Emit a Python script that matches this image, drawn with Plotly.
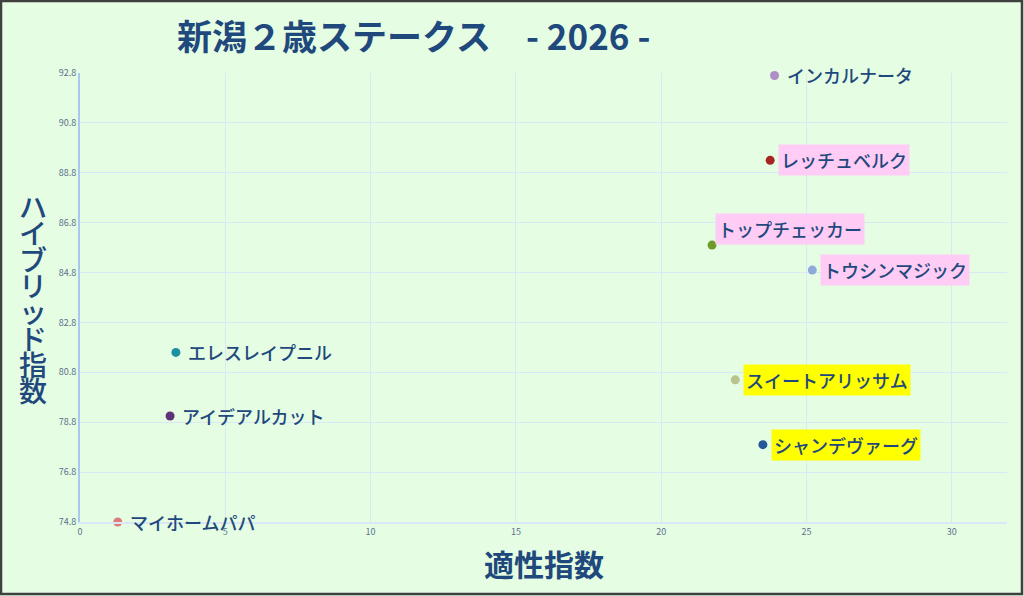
import plotly.graph_objects as go

# 出走馬データ
horses = ["インカルナータ", "レッチュベルク", "トップチェッカー", "トウシンマジック",
          "エレスレイプニル", "スイートアリッサム", "アイデアルカット", "シャンデヴァーグ",
          "マイホームパパ"]
tekisei = [23.9, 23.75, 21.75, 25.2, 3.3, 22.55, 3.1, 23.5, 1.3]
hybrid = [92.7, 89.3, 85.9, 84.9, 81.6, 80.5, 79.05, 77.9, 74.8]
dot_colors = ["#b08fc8", "#a82424", "#6e9a28", "#8eaad8", "#1e8fa2",
              "#b8c48c", "#5e3478", "#24569a", "#e07b7b"]
label_bg = [None, "#ffccf5", "#ffccf5", "#ffccf5", None,
            "#ffff00", None, "#ffff00", None]
label_above = [False, False, True, False, False, False, False, False, False]

x_ticks = [0, 5, 10, 15, 20, 25, 30]
y_ticks = [74.8, 76.8, 78.8, 80.8, 82.8, 84.8, 86.8, 88.8, 90.8, 92.8]

NAVY = "#1f497d"
FONT = "Noto Sans CJK JP"

# プロット領域(ピクセル)
L, R, T, B = 80, 1007, 73, 522
W, H = 1024, 596


def px(X):
    return (X - L) / (R - L)


def py(Y):
    return (B - Y) / (B - T)


fig = go.Figure()
fig.add_trace(go.Scatter(
    x=tekisei, y=hybrid, mode="markers",
    marker=dict(size=9, color=dot_colors),
    cliponaxis=False, hoverinfo="text", text=horses,
))

annotations = []
for name, x, y, bg, above in zip(horses, tekisei, hybrid, label_bg, label_above):
    a = dict(x=x, y=y, xref="x", yref="y", text=name, showarrow=False,
             xanchor="left",
             font=dict(family=FONT, size=18, color=NAVY, weight=500))
    if bg:
        a.update(bgcolor=bg, borderpad=2)
    if above:
        a.update(yanchor="bottom", xshift=3, yshift=0)
    else:
        a.update(yanchor="middle", xshift=8 if bg else 10)
    annotations.append(a)

# 縦書きのY軸タイトル(1文字ずつ)
for i, ch in enumerate("ハイブリッド指数"):
    annotations.append(dict(
        x=px(33), y=py(206 + 26.3 * i), xref="paper", yref="paper",
        text=ch, showarrow=False,
        font=dict(family=FONT, size=28, color=NAVY, weight=500),
        xanchor="center", yanchor="middle",
    ))
annotations.append(dict(
    x=px(544), y=py(563), xref="paper", yref="paper", text="<b>適性指数</b>",
    showarrow=False, font=dict(family=FONT, size=30, color=NAVY),
    xanchor="center", yanchor="middle",
))
annotations.append(dict(
    x=px(175), y=py(35), xref="paper", yref="paper",
    text="<b>新潟２歳ステークス　- 2026 -</b>", showarrow=False,
    font=dict(family=FONT, size=35, color=NAVY),
    xanchor="left", yanchor="middle",
))

fig.update_layout(
    width=W, height=H,
    margin=dict(l=L, r=W - R, t=T, b=H - B),
    paper_bgcolor="#e5fde2", plot_bgcolor="#e5fde2",
    showlegend=False,
    annotations=annotations,
    shapes=[dict(
        type="rect", xref="paper", yref="paper",
        x0=px(1), x1=px(1022), y0=py(594), y1=py(1),
        line=dict(color="#404040", width=2.5), layer="above",
    )],
)
fig.update_xaxes(
    range=[0, 31.9], tickvals=x_ticks, showgrid=True, gridcolor="#d9e8f4",
    zeroline=False, showline=True, linecolor="#d9e8f4", linewidth=2,
    tickfont=dict(family=FONT, size=9, color="#5b7190"), ticks="",
)
fig.update_yaxes(
    range=[74.8, 92.8], tickvals=y_ticks, ticktext=[f"{v:.1f}" for v in y_ticks],
    showgrid=True, gridcolor="#d9e8f4", zeroline=False,
    showline=True, linecolor="#a9c8f0", linewidth=2,
    tickfont=dict(family=FONT, size=9, color="#5b7190"), ticks="",
)

fig.write_html("out.html", config={"displayModeBar": False},
               post_script="document.body.style.margin='0';")
